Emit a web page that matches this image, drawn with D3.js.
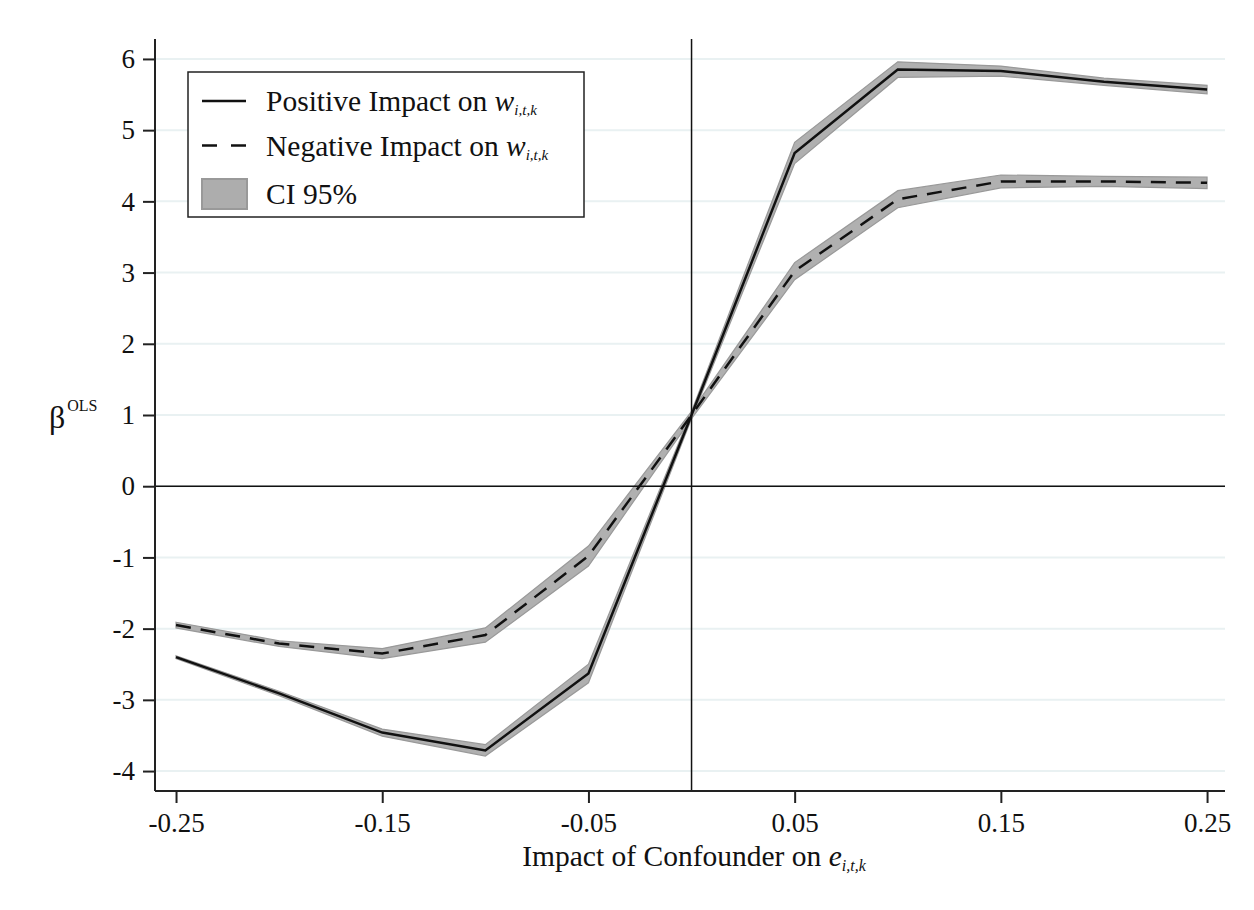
<!DOCTYPE html>
<html>
<head>
<script src="https://d3js.org/d3.v7.min.js"></script>
<style>
  body { margin: 0; background: #fff; }
  text { font-family: "Liberation Serif", "DejaVu Serif", serif; fill: #111; }
</style>
</head>
<body>
<script>
const width = 1254, height = 910;

// data
const xValues = [-0.25, -0.20, -0.15, -0.10, -0.05, 0, 0.05, 0.10, 0.15, 0.20, 0.25];
const positive = [-2.40, -2.91, -3.46, -3.71, -2.63, 1.00, 4.68, 5.85, 5.83, 5.68, 5.57];
const positiveCI = [0.02, 0.03, 0.05, 0.08, 0.13, 0.05, 0.15, 0.11, 0.07, 0.05, 0.06];
const negative = [-1.95, -2.21, -2.35, -2.09, -0.98, 1.00, 3.02, 4.03, 4.28, 4.28, 4.26];
const negativeCI = [0.04, 0.04, 0.07, 0.10, 0.14, 0.05, 0.12, 0.12, 0.09, 0.07, 0.08];
const yTicks = [-4, -3, -2, -1, 0, 1, 2, 3, 4, 5, 6];
const xTicks = [-0.25, -0.15, -0.05, 0.05, 0.15, 0.25];

const svg = d3.select("body").append("svg")
  .attr("width", width).attr("height", height);

const x = d3.scaleLinear().domain([-0.2602, 0.2587]).range([155, 1225]);
const y = d3.scaleLinear().domain([-4.28, 6.28]).range([791, 39]);

// gridlines
svg.append("g").selectAll("line").data(yTicks).join("line")
  .attr("x1", x(-0.2602)).attr("x2", x(0.2587))
  .attr("y1", d => y(d)).attr("y2", d => y(d))
  .attr("stroke", "#e9f1f2").attr("stroke-width", 2);

// bands
const area = d3.area().x(d => x(d.x)).y0(d => y(d.v - d.ci)).y1(d => y(d.v + d.ci));
const line = d3.line().x(d => x(d.x)).y(d => y(d.v));
const series = [
  { vals: positive, ci: positiveCI, dash: null },
  { vals: negative, ci: negativeCI, dash: "15,10" }
].map(s => ({ ...s, pts: xValues.map((xv, i) => ({ x: xv, v: s.vals[i], ci: s.ci[i] })) }));

series.forEach(s => {
  svg.append("path").datum(s.pts).attr("d", area)
    .attr("fill", "#b0b0b0").attr("stroke", "#999").attr("stroke-width", 1.2);
});

// reference lines
svg.append("line").attr("x1", x(-0.2602)).attr("x2", x(0.2587))
  .attr("y1", y(0)).attr("y2", y(0)).attr("stroke", "#111").attr("stroke-width", 1.5);
svg.append("line").attr("x1", x(0)).attr("x2", x(0))
  .attr("y1", y(6.28)).attr("y2", y(-4.28)).attr("stroke", "#111").attr("stroke-width", 1.5);

series.forEach(s => {
  svg.append("path").datum(s.pts).attr("d", line)
    .attr("fill", "none").attr("stroke", "#111").attr("stroke-width", 2.5)
    .attr("stroke-dasharray", s.dash);
});

// axes
const yAxis = svg.append("g").attr("transform", "translate(155,0)")
  .call(d3.axisLeft(y).tickValues(yTicks).tickSize(12).tickPadding(8).tickFormat(d3.format("d")));
const xAxis = svg.append("g").attr("transform", "translate(0,791)")
  .call(d3.axisBottom(x).tickValues(xTicks).tickSize(12).tickPadding(10).tickFormat(d3.format(".2f")));
[yAxis, xAxis].forEach(g => {
  g.select(".domain").attr("stroke", "#222").attr("stroke-width", 2);
  g.selectAll(".tick line").attr("stroke", "#222").attr("stroke-width", 2);
  g.selectAll(".tick text").style("font-family", "Liberation Serif").style("font-size", "27px").attr("fill", "#111");
});
yAxis.select(".domain").attr("d", "M0,39V791");
xAxis.select(".domain").attr("d", "M155,0H1225");
xAxis.selectAll(".tick text").text(d => d3.format(".2f")(d).replace("−", "-"));
yAxis.selectAll(".tick text").text(d => String(d));

// axis titles
const xt = svg.append("text").attr("x", 694).attr("y", 866).attr("text-anchor", "middle")
  .style("font-size", "29.5px");
xt.append("tspan").text("Impact of Confounder on ");
xt.append("tspan").attr("font-style", "italic").text("e");
xt.append("tspan").attr("font-style", "italic").attr("font-size", "16px").attr("dy", 5).text("i,t,k");

const yt = svg.append("text").attr("x", 49).attr("y", 428).style("font-size", "32px");
yt.append("tspan").text("β");
yt.append("tspan").attr("font-size", "16px").attr("dy", -17).attr("dx", 2).text("OLS");

// legend
const lg = svg.append("g").attr("transform", "translate(188,72)");
lg.append("rect").attr("width", 396).attr("height", 145)
  .attr("fill", "#fff").attr("stroke", "#222").attr("stroke-width", 1.5);
const items = [
  { label: "Positive Impact on ", sub: true, type: "solid" },
  { label: "Negative Impact on ", sub: true, type: "dash" },
  { label: "CI 95%", sub: false, type: "area" }
];
items.forEach((it, i) => {
  const cy = 29 + i * 44.5;
  if (it.type === "area") {
    lg.append("rect").attr("x", 14).attr("y", cy - 11).attr("width", 45).attr("height", 30)
      .attr("fill", "#adadad").attr("stroke", "#999").attr("stroke-width", 2);
  } else {
    lg.append("line").attr("x1", 14).attr("x2", 58).attr("y1", cy).attr("y2", cy)
      .attr("stroke", "#111").attr("stroke-width", 2.5)
      .attr("stroke-dasharray", it.type === "dash" ? "15,14" : null);
  }
  const t = lg.append("text").attr("x", 78).attr("y", cy + (it.type === "area" ? 14 : 10))
    .style("font-size", "29.5px");
  t.append("tspan").text(it.label);
  if (it.sub) {
    t.append("tspan").attr("font-style", "italic").text("w");
    t.append("tspan").attr("font-style", "italic").attr("font-size", "15px").attr("dy", 4).text("i,t,k");
  }
});
</script>
</body>
</html>
